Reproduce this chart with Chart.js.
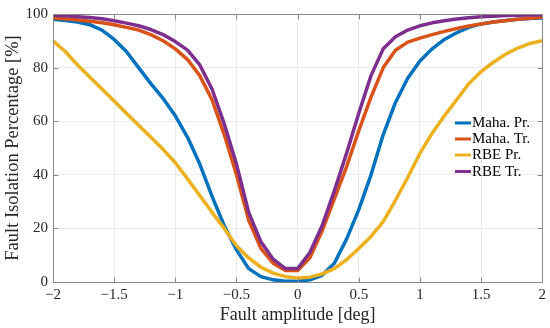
<!DOCTYPE html>
<html>
<head>
<meta charset="utf-8">
<script src="https://cdn.jsdelivr.net/npm/chart.js@4/dist/chart.umd.min.js"></script>
<style>
html,body{margin:0;padding:0;background:#fff;}
#wrap{width:550px;height:328px;}
</style>
</head>
<body>
<div id="wrap"><canvas id="c" width="550" height="328"></canvas></div>
<script>
const amplitude = [-2,-1.9,-1.8,-1.7,-1.6,-1.5,-1.4,-1.3,-1.2,-1.1,-1,-0.9,-0.8,-0.7,-0.6,-0.5,-0.4,-0.3,-0.2,-0.1,0,
  0.1,0.2,0.3,0.4,0.5,0.6,0.7,0.8,0.9,1,1.1,1.2,1.3,1.4,1.5,1.6,1.7,1.8,1.9,2];
const mahaPr = [98,97.6,97,96,94,90.5,86,80,74,68.5,62,54,44,32,21,12,5,2,0.8,0.3,0.3,
  0.8,2.5,7,16,27,40,55,67,76,82.5,87,90.5,93,95,96.3,97,97.6,98,98.3,98.5];
const mahaTr = [98.5,98.2,97.8,97.3,96.7,96,95,94,92.3,90,87,83,77,68,55,40,23,12.5,7,4.3,4.3,
  9,19,31,43,56.5,69,80,86.5,89.5,91,92.3,93.5,94.6,95.5,96.3,97,97.5,98,98.4,98.8];
const rbePr = [90,86,81,76.5,72,67.5,63,58.5,54,49.5,44.5,38.5,32.3,26,20,13.5,9,5.5,3.3,2,1.5,
  1.8,3,5,8.3,12.5,17,22.5,30.5,39,48,55.5,62,68,74,78.5,82,85,87.3,89,90];
const rbeTr = [99.5,99.3,99,98.7,98.2,97.5,96.6,95.6,94.2,92.3,89.7,86.5,81,72,59,44,26,15,8.5,5,5,
  11,21,34,48,63,77,87,91.5,94,95.6,96.7,97.5,98.1,98.6,99,99.2,99.4,99.5,99.6,99.7];
const seriesNames = ["Maha. Pr.","Maha. Tr.","RBE Pr.","RBE Tr."];
const xTicks = [-2,-1.5,-1,-0.5,0,0.5,1,1.5,2];
const yTicks = [0,20,40,60,80,100];

const colors = ["#0072BD","#D95319","#EDB120","#7E2F8E"];
const allSeries = [mahaPr, mahaTr, rbePr, rbeTr];
const FONT = "'Liberation Serif', 'Times New Roman', serif";

function fmt(v){ return (v<0 ? "\u2212" : "") + String(Math.abs(v)); }

const boxPlugin = {
  id: 'boxPlugin',
  afterDatasetsDraw(chart){
    const {ctx, chartArea:a, scales:{x,y}} = chart;
    ctx.save();
    ctx.strokeStyle = '#8a8a8a';
    ctx.lineWidth = 1;
    ctx.beginPath();
    const L = Math.round(a.left)+0.5, R = Math.round(a.right)+0.5, T = Math.round(a.top)+0.5, B = Math.round(a.bottom)+0.5;
    ctx.rect(L, T, R-L, B-T);
    xTicks.forEach(v=>{
      const px = Math.round(x.getPixelForValue(v))+0.5;
      ctx.moveTo(px,B); ctx.lineTo(px,B-5);
      ctx.moveTo(px,T); ctx.lineTo(px,T+5);
    });
    yTicks.forEach(v=>{
      const py = Math.round(y.getPixelForValue(v))+0.5;
      ctx.moveTo(L,py); ctx.lineTo(L+5,py);
      ctx.moveTo(R,py); ctx.lineTo(R-5,py);
    });
    ctx.stroke();
    // legend
    ctx.font = "15px " + FONT;
    ctx.textBaseline = 'middle';
    ctx.fillStyle = '#000';
    const ys = [123,139,155,171.5];
    seriesNames.forEach((n,i)=>{
      ctx.strokeStyle = colors[i];
      ctx.lineWidth = 3;
      ctx.beginPath(); ctx.moveTo(455, ys[i]); ctx.lineTo(471, ys[i]); ctx.stroke();
      ctx.fillText(n, 472, ys[i]+0.5);
    });
    ctx.restore();
  }
};

const datasets = allSeries.map((s,i)=>({
  label: seriesNames[i],
  data: amplitude.map((a,j)=>({x:a, y:s[j]})),
  borderColor: colors[i],
  backgroundColor: colors[i],
  borderWidth: 3.5,
  pointRadius: 0,
  tension: 0,
  fill: false,
  order: 4-i,
  borderJoinStyle: 'round'
}));

new Chart(document.getElementById('c'), {
  type: 'line',
  data: { datasets },
  plugins: [boxPlugin],
  options: {
    responsive: false,
    animation: false,
    layout: { padding: { top: 12, right: 6, left: 0, bottom: 0 } },
    plugins: { legend: { display: false }, tooltip: { enabled: false } },
    scales: {
      x: {
        type: 'linear', min: -2, max: 2,
        afterBuildTicks(s){ s.ticks = xTicks.map(v=>({value:v})); },
        afterFit(s){ s.height = 46; },
        ticks: { callback: v => fmt(v), font: { family: FONT, size: 15 }, color: '#262626', padding: 4, maxRotation: 0 },
        grid: { color: '#ebebeb', drawTicks: false },
        border: { display: false },
        title: { display: true, text: 'Fault amplitude [deg]', font: { family: FONT, size: 18 }, color: '#262626', padding: { top: 0, bottom: 2 } }
      },
      y: {
        type: 'linear', min: 0, max: 100,
        afterBuildTicks(s){ s.ticks = yTicks.map(v=>({value:v})); },
        afterFit(s){ s.width = 53; },
        ticks: { callback: v => fmt(v), font: { family: FONT, size: 15 }, color: '#262626', padding: 5 },
        grid: { color: '#ebebeb', drawTicks: false },
        border: { display: false },
        title: { display: true, text: 'Fault Isolation Percentage [%]', font: { family: FONT, size: 18.5 }, color: '#262626', padding: { top: 2, bottom: 0 } }
      }
    }
  }
});
</script>
</body>
</html>
